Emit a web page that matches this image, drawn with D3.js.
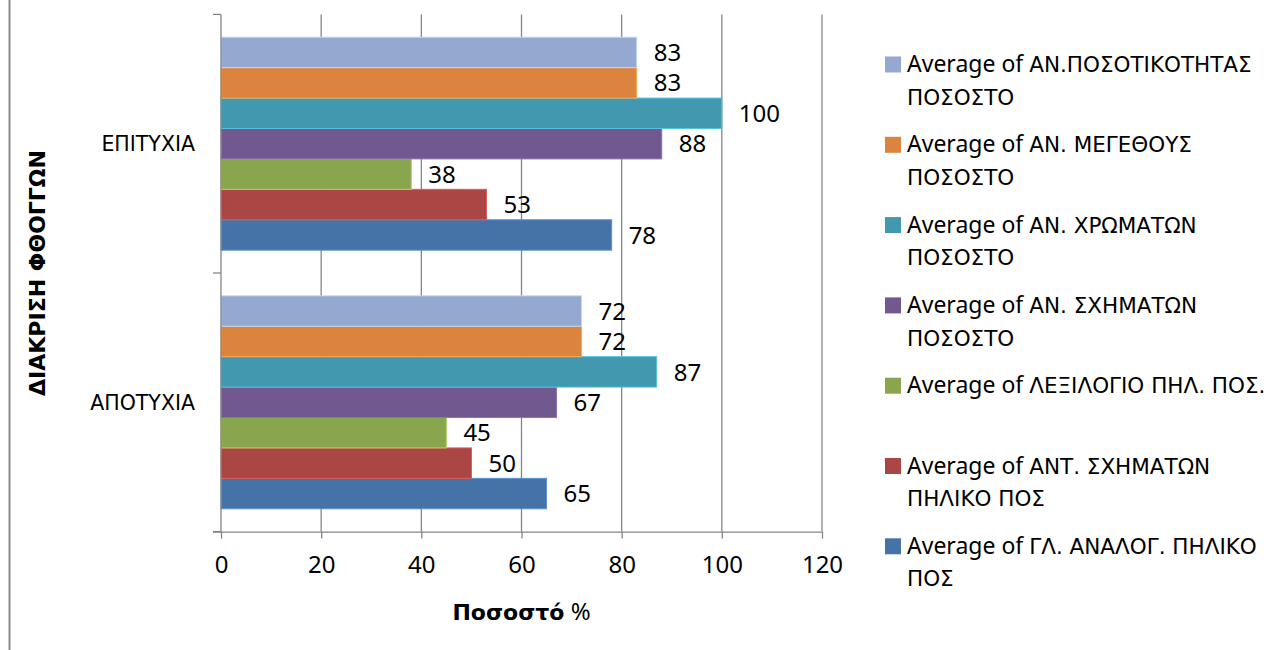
<!DOCTYPE html>
<html>
<head>
<meta charset="utf-8">
<script src="https://cdn.jsdelivr.net/npm/d3@7/dist/d3.min.js"></script>
<style>
  html, body { margin: 0; padding: 0; background: #ffffff; }
  svg { display: block; font-family: "DejaVu Sans", sans-serif; }
  .latin { font-family: "Noto Sans", "Open Sans", sans-serif; }
  .greek { font-family: "DejaVu Sans", sans-serif; }
</style>
</head>
<body>
<svg id="chart" width="1283" height="650"></svg>
<script>
// Categories, top to bottom as drawn
const categories = ["ΕΠΙΤΥΧΙΑ", "ΑΠΟΤΥΧΙΑ"];

// Series names (series order: first series is drawn lowest in each group)
const seriesNames = [
  "ΓΛ. ΑΝΑΛΟΓ. ΠΗΛΙΚΟ ΠΟΣ",
  "ΑΝΤ. ΣΧΗΜΑΤΩΝ ΠΗΛΙΚΟ ΠΟΣ",
  "ΛΕΞΙΛΟΓΙΟ ΠΗΛ. ΠΟΣ.",
  "ΑΝ. ΣΧΗΜΑΤΩΝ ΠΟΣΟΣΤΟ",
  "ΑΝ. ΧΡΩΜΑΤΩΝ ΠΟΣΟΣΤΟ",
  "ΑΝ. ΜΕΓΕΘΟΥΣ ΠΟΣΟΣΤΟ",
  "ΑΝ.ΠΟΣΟΤΙΚΟΤΗΤΑΣ ΠΟΣΟΣΤΟ"
];

// Values per series: [ΕΠΙΤΥΧΙΑ, ΑΠΟΤΥΧΙΑ]
const glAnalogPilikoPos   = [78, 65];
const antSximatonPiliko   = [53, 50];
const lexilogioPilPos     = [38, 45];
const anSximatonPososto   = [88, 67];
const anXromatonPososto   = [100, 87];
const anMegethousPososto  = [83, 72];
const anPosotikotitasPos  = [83, 72];

// Legend text, split into lines (legend lists last series first)
const legendPrefix = "Average of ";
const legendLines = [
  ["ΑΝ.ΠΟΣΟΤΙΚΟΤΗΤΑΣ", "ΠΟΣΟΣΤΟ"],
  ["ΑΝ. ΜΕΓΕΘΟΥΣ", "ΠΟΣΟΣΤΟ"],
  ["ΑΝ. ΧΡΩΜΑΤΩΝ", "ΠΟΣΟΣΤΟ"],
  ["ΑΝ. ΣΧΗΜΑΤΩΝ", "ΠΟΣΟΣΤΟ"],
  ["ΛΕΞΙΛΟΓΙΟ ΠΗΛ. ΠΟΣ."],
  ["ΑΝΤ. ΣΧΗΜΑΤΩΝ", "ΠΗΛΙΚΟ ΠΟΣ"],
  ["ΓΛ. ΑΝΑΛΟΓ. ΠΗΛΙΚΟ", "ΠΟΣ"]
];

const xTicks = [0, 20, 40, 60, 80, 100, 120];
const xTitle = "Ποσοστό";
const yTitle = "ΔΙΑΚΡΙΣΗ ΦΘΟΓΓΩΝ";

const seriesValues = [
  glAnalogPilikoPos, antSximatonPiliko, lexilogioPilPos,
  anSximatonPososto, anXromatonPososto, anMegethousPososto, anPosotikotitasPos
];
const colors = ["#4572A7", "#AA4643", "#89A54E", "#71588F", "#4198AF", "#DB843D", "#93A9CF"];

const svg = d3.select("#chart");
const plot = { left: 221, right: 822, top: 14.4, bottom: 531.6 };
const gridColor = "#868686";

const x = d3.scaleLinear().domain([0, 120]).range([plot.left, plot.right]);
const y = d3.scaleBand().domain(categories).range([plot.top, plot.bottom]);
// inner band: last series on top
const ySeries = d3.scaleBand()
  .domain(d3.range(seriesNames.length).reverse())
  .range([0, y.bandwidth()])
  .paddingInner(0)
  .paddingOuter(0.75);

// outer chart border (left edge)
svg.append("line")
  .attr("x1", 9.5).attr("x2", 9.5).attr("y1", 0).attr("y2", 650)
  .attr("stroke", "#8c8c8c").attr("stroke-width", 2);

// vertical gridlines
svg.append("g").selectAll("line")
  .data(xTicks.filter(t => t > 0))
  .join("line")
  .attr("x1", d => x(d)).attr("x2", d => x(d))
  .attr("y1", plot.top).attr("y2", plot.bottom)
  .attr("stroke", gridColor).attr("stroke-width", 1.3);

// bars
const groups = svg.append("g").selectAll("g")
  .data(seriesValues.map((vals, i) => ({ i, vals })))
  .join("g")
  .attr("fill", d => colors[d.i])
  .attr("stroke", d => d3.color(colors[d.i]).brighter(0.7))
  .attr("stroke-width", 1);

groups.selectAll("rect")
  .data(d => categories.map((c, k) => ({ c, v: d.vals[k], i: d.i })))
  .join("rect")
  .attr("x", x(0))
  .attr("y", d => y(d.c) + ySeries(d.i))
  .attr("width", d => x(d.v) - x(0))
  .attr("height", ySeries.bandwidth());

// data labels
const labels = svg.append("g")
  .attr("class", "latin")
  .attr("font-size", 24).attr("fill", "#000");
seriesValues.forEach((vals, i) => {
  categories.forEach((c, k) => {
    labels.append("text")
      .attr("x", x(vals[k]) + 17)
      .attr("y", y(c) + ySeries(i) + ySeries.bandwidth() / 2)
      .attr("dy", "0.36em")
      .text(vals[k]);
  });
});

// x axis
const xAxis = svg.append("g")
  .attr("transform", `translate(0,${plot.bottom})`)
  .call(d3.axisBottom(x).tickValues(xTicks).tickSize(7).tickPadding(17).tickSizeOuter(0));
xAxis.attr("font-family", null);
xAxis.select(".domain").attr("stroke", gridColor).attr("stroke-width", 1.3)
  .attr("d", `M${plot.left - 8},0.5H${plot.right}`);
xAxis.selectAll(".tick line").attr("stroke", gridColor).attr("stroke-width", 1.3);
xAxis.selectAll(".tick text").attr("class", "latin").attr("font-size", 24).attr("fill", "#000");

// y axis: line, boundary ticks, category labels
const yAxis = svg.append("g");
yAxis.append("line")
  .attr("x1", plot.left).attr("x2", plot.left)
  .attr("y1", plot.top).attr("y2", plot.bottom)
  .attr("stroke", gridColor).attr("stroke-width", 1.3);
const boundaries = categories.map(c => y(c)).concat([y.range()[1]]);
yAxis.selectAll("line.tk")
  .data(boundaries)
  .join("line").attr("class", "tk")
  .attr("x1", plot.left - 8).attr("x2", plot.left)
  .attr("y1", d => d).attr("y2", d => d)
  .attr("stroke", gridColor).attr("stroke-width", 1.3);
yAxis.selectAll("text")
  .data(categories)
  .join("text")
  .attr("class", "greek")
  .attr("x", 195)
  .attr("y", d => y(d) + y.bandwidth() / 2)
  .attr("dy", "0.36em")
  .attr("text-anchor", "end")
  .attr("font-size", 20.5)
  .text(d => d);

// axis titles
const xt = svg.append("text")
  .attr("class", "greek")
  .attr("x", (plot.left + plot.right) / 2)
  .attr("y", 620)
  .attr("text-anchor", "middle")
  .attr("font-size", 22);
xt.append("tspan").attr("font-weight", 700).text(xTitle);
xt.append("tspan").attr("class", "latin").attr("font-size", 24).text(" %");

svg.append("text")
  .attr("class", "greek")
  .attr("transform", `translate(45,${(plot.top + plot.bottom) / 2}) rotate(-90)`)
  .attr("text-anchor", "middle")
  .attr("font-size", 22)
  .attr("font-weight", 700)
  .text(yTitle);

// legend
const legend = svg.append("g").attr("transform", "translate(885,0)");
const legendColors = colors.slice().reverse();
legendLines.forEach((lines, k) => {
  const baseY = 72 + k * 80.3;
  legend.append("rect")
    .attr("x", 0).attr("y", baseY - 15.5)
    .attr("width", 16).attr("height", 16)
    .attr("fill", legendColors[k]);
  lines.forEach((ln, j) => {
    const t = legend.append("text")
      .attr("x", 22).attr("y", baseY + j * 32.6)
      .attr("font-size", 21.5);
    if (j === 0) {
      t.append("tspan").attr("class", "latin").attr("font-size", 23).text(legendPrefix);
    }
    t.append("tspan").attr("class", "greek").text(ln);
  });
});
</script>
</body>
</html>
